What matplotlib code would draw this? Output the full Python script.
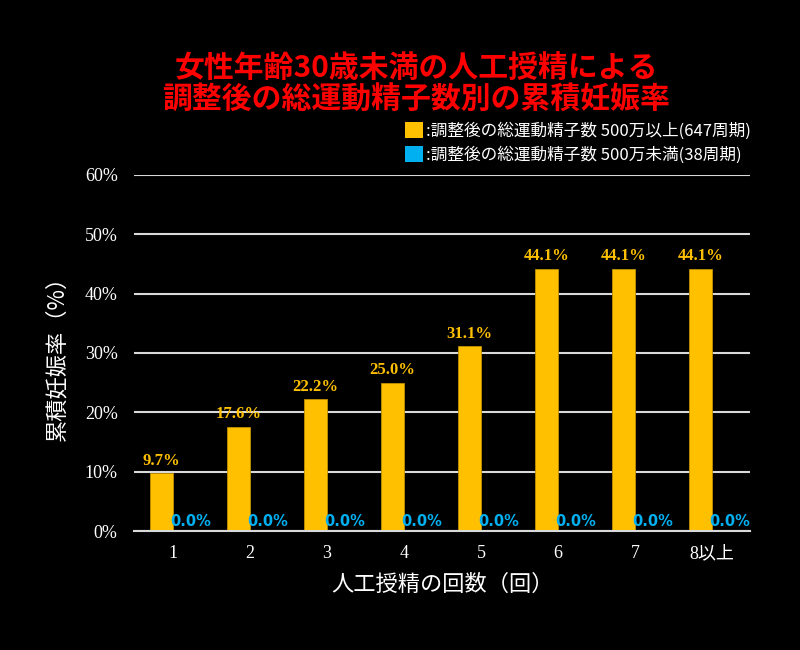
import numpy as np
import matplotlib
matplotlib.use("Agg")
import matplotlib.pyplot as plt
from matplotlib.patches import Patch

plt.rcParams['font.family'] = ['Noto Sans CJK JP', 'DejaVu Sans']

# データ
categories = ['1', '2', '3', '4', '5', '6', '7', '8以上']
over500 = [9.7, 17.6, 22.2, 25.0, 31.1, 44.1, 44.1, 44.1]
under500 = [0.0, 0.0, 0.0, 0.0, 0.0, 0.0, 0.0, 0.0]
yticks = [0, 10, 20, 30, 40, 50, 60]
legend_labels = [':調整後の総運動精子数 500万以上(647周期)',
                 ':調整後の総運動精子数 500万未満(38周期)']

yellow = '#FFC000'
blue = '#00B0F0'

fig = plt.figure(figsize=(8, 6.5), dpi=100, facecolor='black')
ax = fig.add_axes([0.168, 0.183, 0.77, 0.548], facecolor='black')

x = np.arange(len(categories))
w = 0.3
ax.bar(x - w / 2, over500, w, color=yellow, edgecolor='#C09000', linewidth=0.6, zorder=3)
ax.bar(x + w / 2, under500, w, color=blue, zorder=3)

for xi, v in zip(x, over500):
    ax.text(xi - w / 2, v + 0.8, f'{v:.1f}%', ha='center', va='bottom',
            color=yellow, fontsize=12, fontweight='bold', family='Liberation Serif')
for xi, v in zip(x, under500):
    ax.text(xi + w / 2 + 0.08, v + 0.3, f'{v:.1f}%', ha='center', va='bottom',
            color=blue, fontsize=10.5, fontweight='bold', family='DejaVu Sans')

ax.set_xlim(-0.5, len(categories) - 0.5)
ax.set_ylim(0, 60)
ax.set_yticks(yticks)
ax.set_yticklabels([f'{t}%' for t in yticks], color='white', fontsize=13,
                   family=['Liberation Serif', 'DejaVu Sans'])
ax.set_xticks(x)
ax.set_xticklabels(categories, color='white', fontsize=13,
                   family=['Liberation Serif', 'Noto Sans CJK JP'])
ax.tick_params(axis='x', length=0, pad=10)
ax.tick_params(axis='y', length=0, pad=12)

ax.yaxis.grid(True, color='#D9D9D9', linewidth=1.5, zorder=0)
for s in ['left', 'right', 'top']:
    ax.spines[s].set_visible(False)
ax.spines['bottom'].set_color('#D9D9D9')
ax.spines['bottom'].set_linewidth(1.5)
ax.spines['bottom'].set_zorder(4)

ax.set_ylabel('累積妊娠率（%）', color='white', fontsize=16, labelpad=12)
ax.set_xlabel('人工授精の回数（回）', color='white', fontsize=16, labelpad=8)

fig.text(0.52, 0.871, '女性年齢30歳未満の人工授精による\n調整後の総運動精子数別の累積妊娠率',
         ha='center', va='center', color='#FF0000', fontsize=21.5, fontweight='bold',
         linespacing=1.05)

handles = [Patch(facecolor=yellow), Patch(facecolor=blue)]
leg = fig.legend(handles, legend_labels, loc='upper right', bbox_to_anchor=(0.953, 0.83),
                 frameon=False, fontsize=12, handlelength=1.1, handleheight=1.1,
                 handletextpad=0.15, labelspacing=0.35, labelcolor='white',
                 borderpad=0.2)

fig.savefig('out.png', dpi=100, facecolor='black')
